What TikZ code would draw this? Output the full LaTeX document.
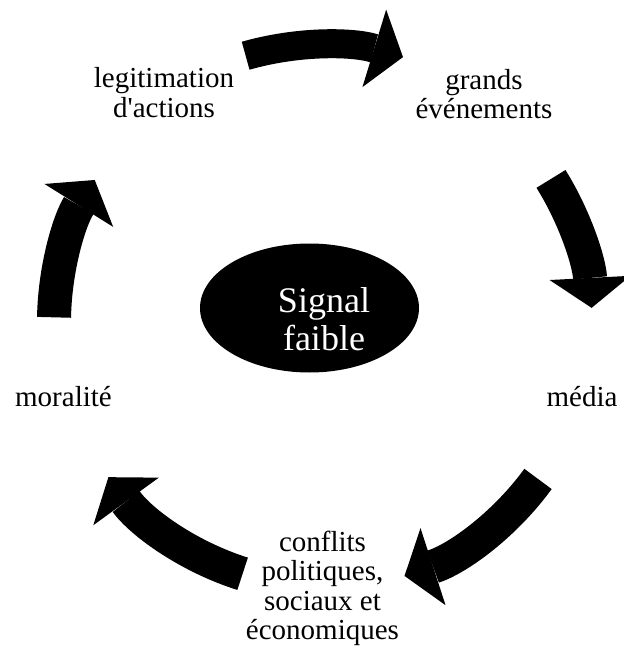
\documentclass[tikz,border=0pt]{standalone}
\usepackage{fontspec}
\setmainfont{Liberation Serif}
\usepackage{tikz}
\usetikzlibrary{arrows.meta,shapes.geometric}

\begin{document}
\begin{tikzpicture}[
  x=1pt,y=1pt,
  lbl/.style={align=center,inner sep=0pt,font=\fontsize{29}{29.5}\selectfont},
  core/.style={ellipse,fill=black,minimum width=219pt,minimum height=129pt,inner sep=0pt},
  coretxt/.style={align=center,inner sep=0pt,text=white,font=\fontsize{36}{38}\selectfont},
  cyc/.style={line width=34pt,-{Triangle[length=30pt,width=81pt,line width=0pt]}}]
  \useasboundingbox (-322,-327) rectangle (302,322);
  % centre
  \node[core] (sig) at (-12.5,14) {};
  \node[coretxt] (sigtxt) at (2,3) {Signal\\faible};
  % labels round the cycle
  \node[lbl] (legit) at (-158,229.5) {legitimation\\d\textquotesingle actions};
  \node[lbl] (grands) at (162,228) {grands\\événements};
  \node[lbl] (media) at (260,-75) {média};
  \node[lbl] (conflits) at (0.5,-266.5) {conflits\\politiques,\\sociaux et\\économiques};
  \node[lbl] (moral) at (-258.5,-75) {moralité};
  % arrow tails
  \coordinate (t1) at (106:277pt);
  \coordinate (t2) at (32:270pt);
  \coordinate (t3) at (-36:267pt);
  \coordinate (t4) at (252.5:264pt);
  \coordinate (t5) at (179:268pt);
  \draw[cyc,line width=29pt] (t1) arc[start angle=106,end angle=73,radius=277pt];
  \draw[cyc] (t2) arc[start angle=32,end angle=3,radius=270pt];
  \draw[cyc] (t3) arc[start angle=-36,end angle=-72,radius=267pt];
  \draw[cyc] (t4) arc[start angle=252.5,end angle=216,radius=264pt];
  \draw[cyc] (t5) arc[start angle=179,end angle=148,radius=268pt];
\end{tikzpicture}
\end{document}
